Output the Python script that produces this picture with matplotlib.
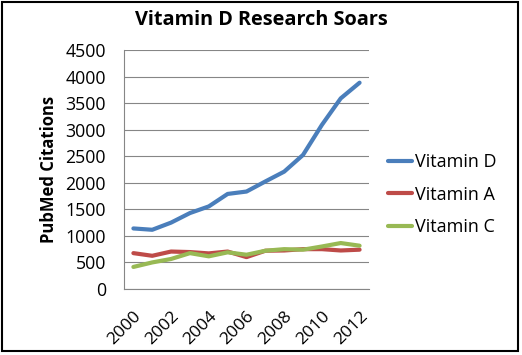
import matplotlib.pyplot as plt
from matplotlib.patches import Rectangle

plt.rcParams['font.family'] = ['Open Sans', 'DejaVu Sans']

years = list(range(2000, 2013))
tick_labels = [str(y) for y in years if y % 2 == 0]
vitamin_d = [1140, 1115, 1250, 1430, 1555, 1790, 1835, 2025, 2210, 2525, 3090, 3590, 3885]
vitamin_a = [675, 625, 705, 695, 670, 705, 600, 720, 725, 750, 750, 725, 740]
vitamin_c = [415, 500, 565, 675, 615, 690, 645, 720, 750, 740, 800, 865, 815]

series = [
    ("Vitamin D", vitamin_d, "#4A7EBB"),
    ("Vitamin A", vitamin_a, "#BE4B48"),
    ("Vitamin C", vitamin_c, "#98B954"),
]

fig = plt.figure(figsize=(5.22, 3.55), dpi=100)
ax = fig.add_axes([0.2375, 0.186, 0.4694, 0.673])

x = list(range(len(years)))
for name, vals, color in series:
    ax.plot(x, vals, color=color, linewidth=3.0, label=name, solid_capstyle='round')

ax.set_xlim(-0.5, len(years) - 0.5)
ax.set_ylim(0, 4500)
ax.set_yticks(range(0, 4501, 500))
ax.set_xticks([i for i, y in enumerate(years) if y % 2 == 0])
ax.set_xticklabels(tick_labels, rotation=45, ha='right', rotation_mode='anchor')
ax.tick_params(axis='y', length=0, labelsize=12.8, pad=13)
ax.tick_params(axis='x', length=0, labelsize=12.6, pad=14)
ax.grid(axis='y', color='#868686', linewidth=0.8)
ax.set_axisbelow(True)
for side in ['top', 'right']:
    ax.spines[side].set_visible(False)
for side in ['left', 'bottom']:
    ax.spines[side].set_color('#868686')
    ax.spines[side].set_linewidth(0.8)

ax.set_ylabel('PubMed Citations', fontsize=12, fontweight='bold', labelpad=5)
fig.suptitle('Vitamin D Research Soars', fontsize=14.3, fontweight='bold', y=0.972)

ax.legend(loc='center left', bbox_to_anchor=(1.078, 0.395), frameon=False,
          fontsize=13, handlelength=1.33, handletextpad=0.17, labelspacing=0.79,
          borderaxespad=0, borderpad=0)

fig.patches.append(Rectangle((0.003, 0.01), 0.99, 0.985, transform=fig.transFigure,
                             fill=False, edgecolor='black', linewidth=1.5))

fig.savefig('out.png', dpi=100)
